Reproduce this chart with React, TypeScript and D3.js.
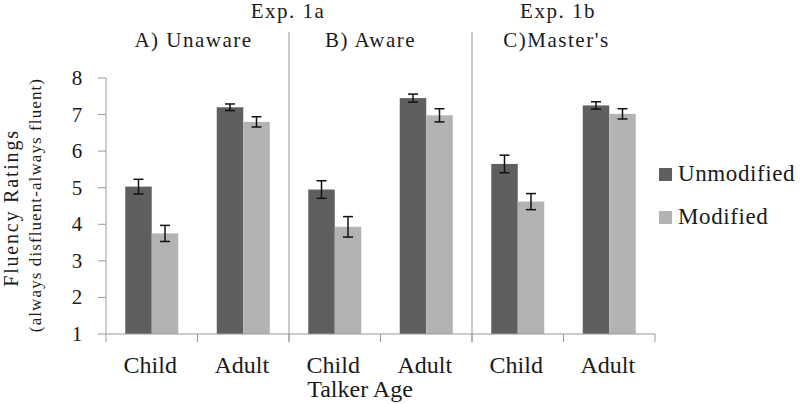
import * as d3 from "d3";

// data
const panels = ["A) Unaware", "B) Aware", "C)Master's"];
const experiments = ["Exp. 1a", "Exp. 1b"];
const ages = ["Child", "Adult"];
const series = ["Unmodified", "Modified"];
// [panel][age] means
const unmodified = [
  [5.03, 7.2],
  [4.95, 7.45],
  [5.65, 7.25],
];
const modified = [
  [3.75, 6.8],
  [3.93, 6.98],
  [4.62, 7.02],
];
const unmodifiedErr = [
  [0.2, 0.09],
  [0.24, 0.11],
  [0.24, 0.1],
];
const modifiedErr = [
  [0.22, 0.14],
  [0.28, 0.18],
  [0.22, 0.14],
];
const yTicks = [1, 2, 3, 4, 5, 6, 7, 8];

const colors = ["#5f5f5f", "#b3b3b3"];
const font = "Liberation Serif, Times New Roman, DejaVu Serif, serif";
const txt = { fill: "#1a1a1a", fontFamily: font };

export default function App() {
  const width = 800;
  const height = 404;
  const x0 = 106;
  const x1 = 655;
  const top = 78;
  const bottom = 334;

  const cats = panels.flatMap((p, i) => ages.map((a) => `${i}-${a}`));
  const x = d3.scaleBand<string>().domain(cats).range([x0, x1]);
  const inner = d3.scaleBand<string>().domain(series).range([0, 53]);
  const y = d3.scaleLinear().domain([1, 8]).range([bottom, top]);
  const offset = (x.bandwidth() - inner.range()[1]) / 2;

  const bars = panels.flatMap((p, pi) =>
    ages.flatMap((a, ai) =>
      series.map((s, si) => ({
        key: `${pi}-${a}-${s}`,
        cat: `${pi}-${a}`,
        s,
        si,
        v: si === 0 ? unmodified[pi][ai] : modified[pi][ai],
        e: si === 0 ? unmodifiedErr[pi][ai] : modifiedErr[pi][ai],
      }))
    )
  );

  const panelEdge = (i: number) => x(`${i}-Child`)!;
  // header titles sit a little left of the panel centre in the original
  const headerShift = [-4, -10, -7];

  return (
    <svg width={width} height={height} style={{ position: "absolute", left: 0, top: 0 }} fontFamily={font}>
      <rect width={width} height={height} fill="#fff" />
      {/* headers */}
      <text x={288} y={18} fontSize={21} letterSpacing={1.5} textAnchor="middle" {...txt}>{experiments[0]}</text>
      <text x={558} y={18} fontSize={21} letterSpacing={1.5} textAnchor="middle" {...txt}>{experiments[1]}</text>
      {panels.map((p, i) => (
        <text
          key={p}
          x={panelEdge(i) + x.bandwidth() + headerShift[i]}
          y={47}
          fontSize={21}
          letterSpacing={1.5}
          textAnchor="middle"
          {...txt}
        >
          {p}
        </text>
      ))}
      {/* panel separators */}
      {[1, 2].map((i) => (
        <line key={i} x1={panelEdge(i)} x2={panelEdge(i)} y1={32} y2={bottom + 8} stroke="#999" strokeWidth={1} />
      ))}
      {/* bars */}
      {bars.map((b) => {
        const bx = x(b.cat)! + offset + inner(b.s)!;
        const cx = bx + inner.bandwidth() / 2;
        return (
          <g key={b.key}>
            <rect x={bx} y={y(b.v)} width={inner.bandwidth()} height={bottom - y(b.v)} fill={colors[b.si]} />
            <line x1={cx} x2={cx} y1={y(b.v + b.e)} y2={y(b.v - b.e)} stroke="#111" strokeWidth={1.5} />
            <line x1={cx - 5} x2={cx + 5} y1={y(b.v + b.e)} y2={y(b.v + b.e)} stroke="#111" strokeWidth={1.5} />
            <line x1={cx - 5} x2={cx + 5} y1={y(b.v - b.e)} y2={y(b.v - b.e)} stroke="#111" strokeWidth={1.5} />
          </g>
        );
      })}
      {/* y axis */}
      <line x1={x0} x2={x0} y1={top} y2={bottom} stroke="#999" />
      {yTicks.map((t) => (
        <g key={t}>
          <line x1={x0 - 8} x2={x0} y1={y(t)} y2={y(t)} stroke="#999" />
          <text x={77} y={y(t) + 7} fontSize={21} textAnchor="middle" {...txt}>{t}</text>
        </g>
      ))}
      {/* x axis */}
      <line x1={x0} x2={x1} y1={bottom} y2={bottom} stroke="#999" />
      {cats.concat(["end"]).map((c, i) => {
        const tx = i < cats.length ? x(c)! : x1;
        return <line key={c} x1={tx} x2={tx} y1={bottom} y2={bottom + 8} stroke="#999" />;
      })}
      {cats.map((c) => (
        <text key={c} x={x(c)! + x.bandwidth() / 2 - 1.5} y={373} fontSize={24} textAnchor="middle" {...txt}>
          {c.split("-")[1]}
        </text>
      ))}
      <text x={360} y={397} fontSize={24} textAnchor="middle" {...txt}>Talker Age</text>
      {/* y labels */}
      <text transform="translate(18,208) rotate(-90)" fontSize={20} letterSpacing={1.8} textAnchor="middle" {...txt}>
        Fluency Ratings
      </text>
      <text transform="translate(41,205) rotate(-90)" fontSize={17} letterSpacing={1.1} textAnchor="middle" {...txt}>
        (always disfluent-always fluent)
      </text>
      {/* legend */}
      {series.map((s, i) => (
        <g key={s} transform={`translate(659,${181 + i * 43})`}>
          <rect x={0} y={-13} width={13} height={13} fill={colors[i]} />
          <text x={19} y={0} fontSize={23} letterSpacing={0.6} {...txt}>{s}</text>
        </g>
      ))}
    </svg>
  );
}
